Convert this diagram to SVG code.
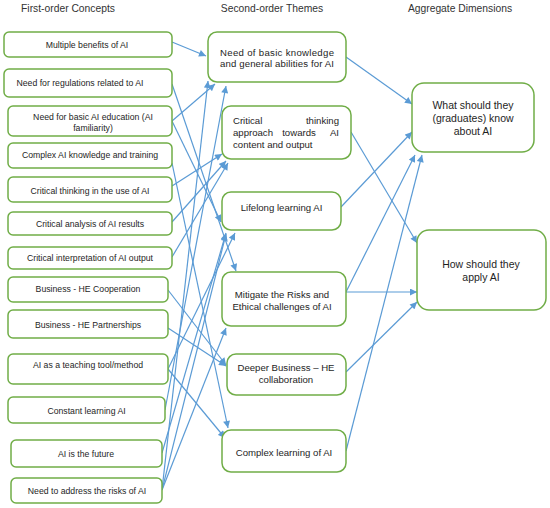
<svg xmlns="http://www.w3.org/2000/svg" width="550" height="508" viewBox="0 0 550 508">
<style>
.bx{fill:#fff;stroke:#70AD47;stroke-width:1.5}
.t{font-family:"Liberation Sans","Open Sans",Arial,sans-serif;fill:#1e1e1e;text-anchor:middle}
.s{font-size:8.7px}
.m{font-size:9.6px}
.r{font-size:10.5px}
.h{font-size:10.3px;fill:#333}
.c line{stroke:#5B9BD5;stroke-width:1.2;marker-end:url(#ah)}
</style>
<defs>
<marker id="ah" viewBox="0 0 10 10" refX="10" refY="5" markerWidth="8" markerHeight="7" markerUnits="userSpaceOnUse" orient="auto">
<path d="M0,0 L10,5 L0,10 z" fill="#5B9BD5"/>
</marker>
</defs>
<rect width="550" height="508" fill="#fff"/>
<g id="headers">
<text class="t h" x="68" y="12">First-order Concepts</text>
<text class="t h" x="272" y="12">Second-order Themes</text>
<text class="t h" x="460" y="12">Aggregate Dimensions</text>
</g>
<g class="c" id="connectors">
<line x1="172" y1="42" x2="206" y2="56"/>
<line x1="172" y1="84" x2="236" y2="271"/>
<line x1="172" y1="121" x2="215" y2="84"/>
<line x1="172" y1="121" x2="221" y2="222"/>
<line x1="172" y1="163" x2="228" y2="428"/>
<line x1="172" y1="186" x2="222" y2="154"/>
<line x1="172" y1="222" x2="226" y2="161"/>
<line x1="172" y1="257" x2="228" y2="163"/>
<line x1="168" y1="290" x2="226" y2="365"/>
<line x1="168" y1="328" x2="226" y2="366"/>
<line x1="168" y1="369" x2="225" y2="438"/>
<line x1="168" y1="369" x2="235" y2="233"/>
<line x1="165" y1="410" x2="226" y2="86"/>
<line x1="162" y1="453" x2="226" y2="233"/>
<line x1="162" y1="490" x2="208" y2="81"/>
<line x1="162" y1="490" x2="226" y2="234"/>
<line x1="162" y1="490" x2="226" y2="328"/>
<line x1="346" y1="57" x2="412" y2="104"/>
<line x1="351" y1="132" x2="417" y2="243"/>
<line x1="341" y1="207" x2="412" y2="132"/>
<line x1="346" y1="292" x2="415" y2="155"/>
<line x1="346" y1="292" x2="417" y2="292"/>
<line x1="346" y1="372" x2="417" y2="302"/>
<line x1="346" y1="451" x2="422" y2="155"/>
</g>
<g id="f1"><rect class="bx" x="4" y="32" width="168" height="25" rx="5"/><text class="t s" x="87" y="47.5">Multiple benefits of AI</text></g>
<g id="f2"><rect class="bx" x="4" y="69" width="168" height="28" rx="5"/><text class="t s" x="80" y="86">Need for regulations related to AI</text></g>
<g id="f3"><rect class="bx" x="8" y="106" width="164" height="30" rx="5"/><text class="t s" x="93" y="120">Need for basic AI education (AI</text><text class="t s" x="93" y="131">familiarity)</text></g>
<g id="f4"><rect class="bx" x="8" y="143" width="164" height="25" rx="5"/><text class="t s" x="90" y="158">Complex AI knowledge and training</text></g>
<g id="f5"><rect class="bx" x="8" y="177" width="164" height="25" rx="5"/><text class="t s" x="90" y="194">Critical thinking in the use of AI</text></g>
<g id="f6"><rect class="bx" x="8" y="212" width="164" height="23" rx="5"/><text class="t s" x="90" y="227">Critical analysis of AI results</text></g>
<g id="f7"><rect class="bx" x="8" y="247" width="164" height="22" rx="5"/><text class="t s" x="90" y="261">Critical interpretation of AI output</text></g>
<g id="f8"><rect class="bx" x="8" y="277" width="160" height="25" rx="5"/><text class="t s" x="88" y="292">Business - HE Cooperation</text></g>
<g id="f9"><rect class="bx" x="8" y="310" width="160" height="28" rx="5"/><text class="t s" x="88" y="328">Business - HE Partnerships</text></g>
<g id="f10"><rect class="bx" x="8" y="354" width="160" height="30" rx="5"/><text class="t s" x="88" y="368">AI as a teaching tool/method</text></g>
<g id="f11"><rect class="bx" x="8" y="397" width="157" height="26" rx="5"/><text class="t s" x="86.5" y="414">Constant learning AI</text></g>
<g id="f12"><rect class="bx" x="11" y="440" width="151" height="27" rx="5"/><text class="t s" x="86" y="457">AI is the future</text></g>
<g id="f13"><rect class="bx" x="11" y="478" width="151" height="25" rx="5"/><text class="t s" x="87" y="494">Need to address the risks of AI</text></g>
<g id="s1"><rect class="bx" x="208" y="32" width="138" height="50" rx="9"/><text class="t m" x="277" y="55.5" textLength="114" lengthAdjust="spacing">Need of basic knowledge</text><text class="t m" x="277" y="67" textLength="114" lengthAdjust="spacing">and general abilities for AI</text></g>
<g id="s2"><rect class="bx" x="222" y="106" width="129" height="53" rx="9"/><text class="t m" x="233" y="124" style="text-anchor:start">Critical</text><text class="t m" x="339" y="124" style="text-anchor:end">thinking</text><text class="t m" x="233" y="136" style="text-anchor:start">approach</text><text class="t m" x="299" y="136">towards</text><text class="t m" x="339" y="136" style="text-anchor:end">AI</text><text class="t m" x="233" y="148" style="text-anchor:start">content and output</text></g>
<g id="s3"><rect class="bx" x="222" y="192" width="119" height="38" rx="9"/><text class="t m" x="281.5" y="210.5">Lifelong learning AI</text></g>
<g id="s4"><rect class="bx" x="222" y="272" width="124" height="54" rx="9"/><text class="t m" x="282" y="297.5">Mitigate the Risks and</text><text class="t m" x="282" y="309.5">Ethical challenges of AI</text></g>
<g id="s5"><rect class="bx" x="227" y="354" width="119" height="41" rx="9"/><text class="t m" x="286" y="370.5">Deeper Business – HE</text><text class="t m" x="286" y="383">collaboration</text></g>
<g id="s6"><rect class="bx" x="222" y="430" width="124" height="42" rx="9"/><text class="t m" x="284" y="455.5">Complex learning of AI</text></g>
<g id="a1"><rect class="bx" x="412" y="83" width="122" height="69" rx="12"/><text class="t r" x="473" y="109">What should they</text><text class="t r" x="473" y="122">(graduates) know</text><text class="t r" x="473" y="135">about AI</text></g>
<g id="a2"><rect class="bx" x="417" y="230" width="129" height="80" rx="12"/><text class="t r" x="481" y="268">How should they</text><text class="t r" x="481" y="281">apply AI</text></g>
</svg>
